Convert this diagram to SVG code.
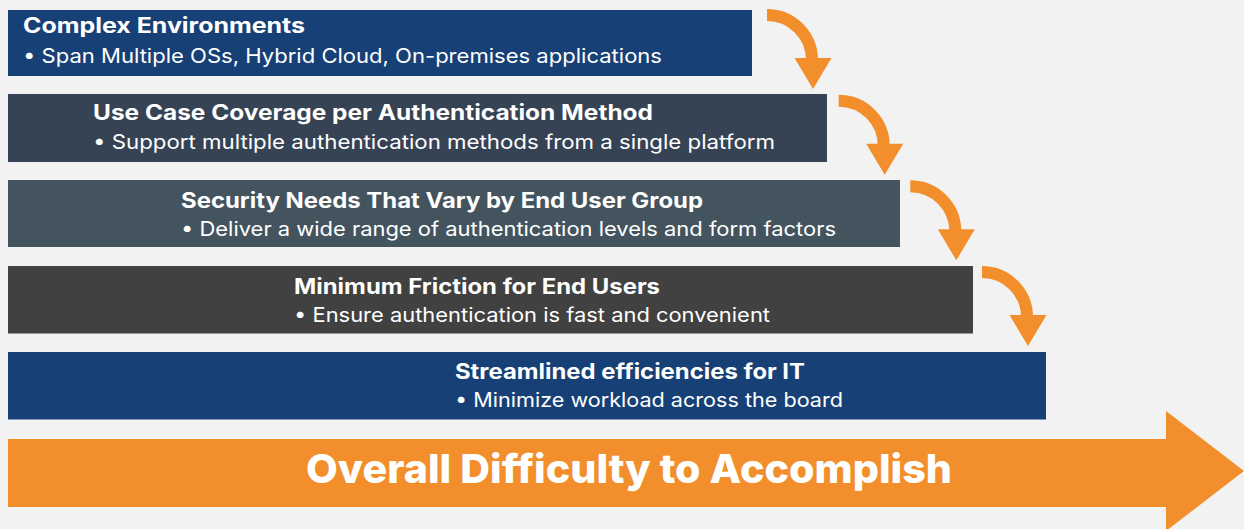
<svg xmlns="http://www.w3.org/2000/svg" width="1244" height="529" viewBox="0 0 1244 529">
  <style>
    .title { font-family: Inter, "Noto Sans", "Liberation Sans", sans-serif; font-weight: 700; font-size: 21px; fill: #ffffff; }
    .sub { font-family: Inter, "Noto Sans", "Liberation Sans", sans-serif; font-weight: 400; font-size: 20px; fill: #ffffff; }
    .big { font-family: Inter, "Noto Sans", "Liberation Sans", sans-serif; font-weight: 800; font-size: 40px; fill: #ffffff; }
  </style>
  <defs>
    <g id="curveArrow">
      <path d="M0,6 A45,45 0 0 1 45,51" fill="none" stroke="#F28F2C" stroke-width="12"/>
      <polygon points="27.5,49 64.5,49 46,80" fill="#F28F2C"/>
    </g>
  </defs>
  <rect x="0" y="0" width="1244" height="529" fill="#F2F2F2"/>

  <g id="node1">
    <rect x="8" y="10" width="744" height="66" fill="#174176"/>
    <text class="title" x="23" y="33" textLength="282" lengthAdjust="spacingAndGlyphs">Complex Environments</text>
    <text class="sub" x="23" y="63" textLength="639" lengthAdjust="spacingAndGlyphs">• Span Multiple OSs, Hybrid Cloud, On-premises applications</text>
  </g>
  <g id="node2">
    <rect x="8" y="94" width="819" height="68" fill="#364354"/>
    <text class="title" x="93" y="119.5" textLength="560" lengthAdjust="spacingAndGlyphs">Use Case Coverage per Authentication Method</text>
    <text class="sub" x="93" y="149" textLength="682" lengthAdjust="spacingAndGlyphs">• Support multiple authentication methods from a single platform</text>
  </g>
  <g id="node3">
    <rect x="8" y="180" width="892" height="67" fill="#43545F"/>
    <text class="title" x="181" y="208" textLength="522" lengthAdjust="spacingAndGlyphs">Security Needs That Vary by End User Group</text>
    <text class="sub" x="181" y="236" textLength="655" lengthAdjust="spacingAndGlyphs">• Deliver a wide range of authentication levels and form factors</text>
  </g>
  <g id="node4">
    <rect x="8" y="266" width="965" height="67.5" fill="#414141"/>
    <text class="title" x="294" y="293.5" textLength="366" lengthAdjust="spacingAndGlyphs">Minimum Friction for End Users</text>
    <text class="sub" x="294" y="322" textLength="476" lengthAdjust="spacingAndGlyphs">• Ensure authentication is fast and convenient</text>
  </g>
  <g id="node5">
    <rect x="8" y="352" width="1038" height="67.5" fill="#174176"/>
    <text class="title" x="455" y="379" textLength="350" lengthAdjust="spacingAndGlyphs">Streamlined efficiencies for IT</text>
    <text class="sub" x="455" y="406.5" textLength="388" lengthAdjust="spacingAndGlyphs">• Minimize workload across the board</text>
  </g>
  <g id="overall">
    <polygon points="8,439 1166,439 1166,411 1244,471 1166,531 1166,507 8,507" fill="#F28F2C"/>
    <text class="big" x="306" y="483" textLength="646" lengthAdjust="spacingAndGlyphs">Overall Difficulty to Accomplish</text>
  </g>

  <g id="connectors">
    <use href="#curveArrow" x="767" y="9"/>
    <use href="#curveArrow" x="838.7" y="94.7"/>
    <use href="#curveArrow" x="910.3" y="180.3"/>
    <use href="#curveArrow" x="982" y="266"/>
  </g>
</svg>
